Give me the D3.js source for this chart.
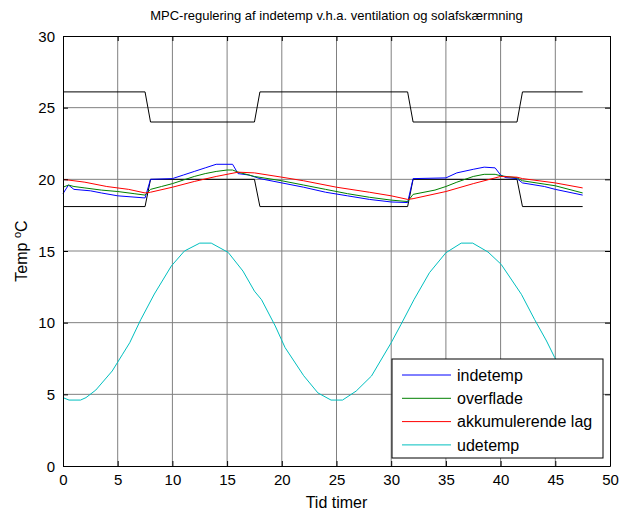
<!DOCTYPE html>
<html>
<head>
<meta charset="utf-8">
<script src="https://cdn.jsdelivr.net/npm/d3@7"></script>
<style>
  body { margin: 0; background: #fff; }
  svg { font-family: "Liberation Sans", Arial, sans-serif; }
  .grid line { stroke: #808080; stroke-width: 1; }
  .series { fill: none; stroke-width: 1; }
</style>
</head>
<body>
<svg width="619" height="515"></svg>
<script>
// grænser (komfortbånd) – [time, temp]
const upperLimit = [[0, 26.1], [7.5, 26.1], [8, 24.0], [17.5, 24.0], [18, 26.1], [31.5, 26.1], [32, 24.0], [41.5, 24.0], [42, 26.1], [47.5, 26.1]];
const lowerLimit = [[0, 18.1], [7.5, 18.1], [8, 20.0], [17.5, 20.0], [18, 18.1], [31.5, 18.1], [32, 20.0], [41.5, 20.0], [42, 18.1], [47.5, 18.1]];

const indetemp = [[0, 19.0], [0.5, 19.6], [1, 19.3], [2.5, 19.2], [3.5, 19.05], [5, 18.85], [7.5, 18.7], [8, 20.0],
  [10, 20.05], [11, 20.3], [12, 20.55], [13, 20.8], [14, 21.05], [15.5, 21.05], [16, 20.4], [17, 20.3], [18, 20.05],
  [20, 19.75], [22, 19.45], [24, 19.1], [26, 18.85], [28, 18.6], [30, 18.42], [31.5, 18.38], [32, 20.05], [35, 20.1],
  [36, 20.45], [37.5, 20.7], [38.5, 20.85], [39.5, 20.8], [40, 20.3], [40.5, 20.12], [41.5, 20.05], [42, 19.75],
  [44, 19.5], [45, 19.3], [47.5, 18.9]];

const overflade = [[0, 19.45], [0.5, 19.6], [1, 19.5], [2, 19.4], [3.5, 19.25], [5, 19.15], [6.5, 19.0], [7.5, 18.9],
  [8, 19.3], [9, 19.5], [10, 19.7], [11, 19.95], [12, 20.2], [13, 20.4], [14, 20.55], [15, 20.65], [15.5, 20.65],
  [16, 20.5], [17.5, 20.2], [20, 19.9], [22, 19.6], [24, 19.3], [26, 19.0], [28, 18.75], [30, 18.55], [31.5, 18.45],
  [32, 18.95], [34, 19.25], [35, 19.5], [36, 19.8], [37.5, 20.2], [38.5, 20.35], [39.5, 20.35], [40, 20.25],
  [41.5, 20.1], [42, 19.9], [45, 19.55], [47.5, 19.05]];

const akkumulerende = [[0, 20.0], [2, 19.8], [4, 19.5], [6, 19.3], [7.5, 19.05], [8, 19.1], [10, 19.45], [12, 19.85],
  [14, 20.2], [16, 20.5], [17.5, 20.45], [20, 20.15], [22, 19.9], [25, 19.45], [28, 19.1], [30, 18.85], [31.5, 18.6],
  [32, 18.65], [35, 19.15], [37.5, 19.7], [40, 20.2], [41.5, 20.15], [42, 20.05], [45, 19.75], [47.5, 19.4]];

const udetemp = [[0, 4.77], [0.55, 4.6], [1.6, 4.6], [2.1, 4.77], [3, 5.3], [4.5, 6.63], [5.45, 7.8], [6.1, 8.6],
  [7.1, 10.2], [8.35, 12.0], [9.9, 13.95], [11.1, 15.0], [12.5, 15.55], [13.55, 15.55], [15.1, 14.9], [16.45, 13.6],
  [17.5, 12.2], [18.15, 11.6], [19.4, 9.77], [20.3, 8.26], [22, 6.3], [23.3, 5.1], [24.5, 4.6], [25.55, 4.6],
  [26.8, 5.23], [28.2, 6.28], [30, 8.6], [30.9, 9.88], [32.1, 11.63], [33.5, 13.49], [35, 14.88], [36.4, 15.55],
  [37.45, 15.55], [38.85, 14.93], [40.05, 14.07], [41.9, 11.98], [43.1, 10.23], [44.2, 8.72], [44.95, 7.56],
  [46, 6.2], [47.5, 5.2]];

const xTicks = [0, 5, 10, 15, 20, 25, 30, 35, 40, 45, 50];
const yTicks = [0, 5, 10, 15, 20, 25, 30];

const series = [
  {name: "indetemp", data: indetemp, color: "#0000ff"},
  {name: "overflade", data: overflade, color: "#008000"},
  {name: "akkumulerende lag", data: akkumulerende, color: "#ff0000"},
  {name: "udetemp", data: udetemp, color: "#00bfbf"}
];

const svg = d3.select("svg");
const m = {left: 63, right: 610, top: 36, bottom: 466};

const x = d3.scaleLinear().domain([0, 50]).range([m.left, m.right]);
const y = d3.scaleLinear().domain([0, 30]).range([m.bottom, m.top]);

// gitter
const grid = svg.append("g").attr("class", "grid");
grid.selectAll("line.gx")
  .data(xTicks.slice(1, -1))
  .enter().append("line")
  .attr("x1", d => x(d)).attr("x2", d => x(d))
  .attr("y1", m.top).attr("y2", m.bottom);
grid.selectAll("line.gy")
  .data(yTicks.slice(1, -1))
  .enter().append("line")
  .attr("y1", d => y(d)).attr("y2", d => y(d))
  .attr("x1", m.left).attr("x2", m.right);

// kurver
const line = d3.line().x(d => x(d[0])).y(d => y(d[1]));

svg.append("path").datum(upperLimit).attr("class", "series").attr("stroke", "#000").attr("d", line);
svg.append("path").datum(lowerLimit).attr("class", "series").attr("stroke", "#000").attr("d", line);

svg.selectAll("path.curve")
  .data(series)
  .enter().append("path")
  .attr("class", "series curve")
  .attr("stroke", d => d.color)
  .attr("d", d => line(d.data));

// akser (boks med ticks indad)
const xAxis = d3.axisBottom(x).tickValues(xTicks).tickSizeInner(-5).tickSizeOuter(0).tickPadding(8);
const yAxis = d3.axisLeft(y).tickValues(yTicks).tickSizeInner(-5).tickSizeOuter(0).tickPadding(8);

const gx = svg.append("g").attr("transform", `translate(0,${m.bottom})`).call(xAxis);
const gy = svg.append("g").attr("transform", `translate(${m.left},0)`).call(yAxis);
const gx2 = svg.append("g").attr("transform", `translate(0,${m.top})`)
  .call(d3.axisTop(x).tickValues(xTicks).tickSizeInner(-5).tickSizeOuter(0).tickFormat(""));
const gy2 = svg.append("g").attr("transform", `translate(${m.right},0)`)
  .call(d3.axisRight(y).tickValues(yTicks).tickSizeInner(-5).tickSizeOuter(0).tickFormat(""));

[gx, gy, gx2, gy2].forEach(g => {
  g.select(".domain").attr("stroke", "#000").attr("stroke-width", 1);
  g.selectAll(".tick line").attr("stroke", "#000");
  g.selectAll(".tick text").attr("fill", "#000").style("font-size", "15px");
});
gy.selectAll(".tick text").attr("dy", "0.35em");
gx.selectAll(".tick text").attr("dy", "0.7em");

// titel og aksetitler
svg.append("text")
  .attr("x", (m.left + m.right) / 2).attr("y", 20)
  .attr("text-anchor", "middle").style("font-size", "13px")
  .text("MPC-regulering af indetemp v.h.a. ventilation og solafskærmning");

svg.append("text")
  .attr("x", (m.left + m.right) / 2).attr("y", 508)
  .attr("text-anchor", "middle").style("font-size", "16px")
  .text("Tid timer");

const ylab = svg.append("text")
  .attr("transform", `translate(27,${(m.top + m.bottom) / 2}) rotate(-90)`)
  .attr("text-anchor", "middle").style("font-size", "16px");
ylab.append("tspan").text("Temp ");
ylab.append("tspan").attr("dy", "-6").style("font-size", "11px").text("o");
ylab.append("tspan").attr("dy", "6").text("C");

// legende
const lg = svg.append("g").attr("transform", "translate(392,359)");
lg.append("rect").attr("width", 211).attr("height", 99)
  .attr("fill", "#fff").attr("stroke", "#000").attr("stroke-width", 1);
const item = lg.selectAll("g.item")
  .data(series)
  .enter().append("g")
  .attr("transform", (d, i) => `translate(0,${16 + i * 23.3})`);
item.append("line")
  .attr("x1", 10).attr("x2", 59)
  .attr("stroke", d => d.color).attr("stroke-width", 1);
item.append("text")
  .attr("x", 65).attr("dy", "0.35em")
  .style("font-size", "16px")
  .text(d => d.name);
</script>
</body>
</html>
